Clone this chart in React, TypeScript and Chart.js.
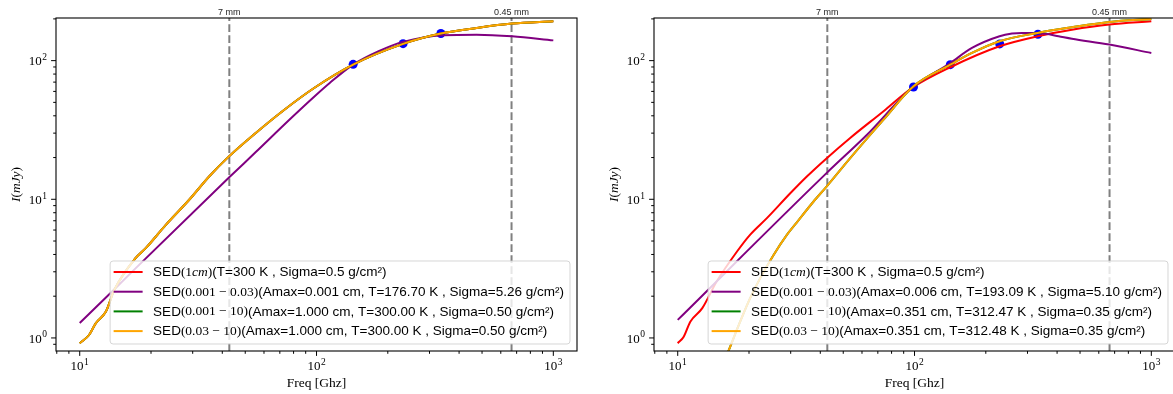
import React, { useEffect, useRef } from 'react';
import { Chart, registerables } from 'chart.js';
Chart.register(...registerables);

// ---------------- data ----------------
// Left panel
const leftFitFreq = [10, 10.95, 11.7, 12.9, 14.0, 17.2, 19.0, 23.1, 29.0, 35.2, 42.7, 55.4, 71.8, 97.7, 142.8, 232, 335, 474, 670, 1000];
const leftFitFlux = [0.916, 1.05, 1.28, 1.55, 2.22, 3.76, 4.44, 6.54, 9.92, 14.6, 20.4, 30.1, 43.2, 63.5, 93.6, 132, 156.7, 172, 185, 192];
const leftSmallFreq = [10, 13.7, 16.7, 42.8, 55.4, 76.6, 99.3, 113.7, 142.8, 183, 232, 343, 474, 670, 1000];
const leftSmallFlux = [1.28, 2.16, 3.02, 14.4, 21.9, 37.3, 56.3, 69, 93.6, 117, 136.5, 152.5, 154, 150, 140];
const leftDotFreq = [142.8, 232, 335];
const leftDotFlux = [94, 132.5, 157];

// Right panel
const rightRedFreq = [10, 10.6, 11.3, 12.7, 14.6, 17.8, 20.2, 23.8, 29.8, 35.1, 42.6, 53.5, 74, 97.5, 141.6, 228.6, 331, 462, 665, 1000];
const rightRedFlux = [0.916, 1.02, 1.31, 1.64, 2.55, 4.2, 5.54, 7.31, 11.0, 14.6, 19.8, 27.7, 43.2, 63.5, 89.6, 127, 150, 167, 182, 192];
const rightSmallFreq = [10, 42.6, 63, 97.5, 141.6, 174.8, 228.6, 258, 284, 313, 357, 406, 462, 665, 1000];
const rightSmallFlux = [1.35, 15.5, 29.2, 63.5, 96.2, 123.5, 150, 156.7, 158.5, 158.5, 156, 150, 144, 130.5, 113.6];
const rightFitFreq = [15.5, 16.4, 18.35, 20.2, 22.3, 25.4, 28.9, 31.8, 37.4, 42.6, 53.5, 74, 99, 141.6, 174.8, 228.6, 331, 462, 665, 1000];
const rightFitFlux = [0.64, 0.81, 1.31, 1.93, 2.70, 3.97, 5.54, 6.8, 9.6, 12.4, 19.8, 37.5, 65.3, 93.5, 113.6, 138, 158.5, 174, 190, 200];
const rightDotFreq = [99, 141.6, 229, 332];
const rightDotFlux = [64.5, 93.5, 132, 155];

// Reference wavelengths
const markerFreqs = [42.83, 666.2];
const markerLabels = ['7 mm', '0.45 mm'];

// Axes
const xMin = 7.94;
const xMax = 1259;
const yMin = 0.805;
const yMax = 203;
const xTitle = 'Freq [Ghz]';

type Seg = [string, 'sans' | 'serif' | 'ital'];
const leftLegend: Seg[][] = [
  [['SED', 'sans'], ['(1', 'serif'], ['cm', 'ital'], [')', 'serif'], ['(T=300 K , Sigma=0.5 g/cm²)', 'sans']],
  [['SED', 'sans'], ['(0.001 − 0.03)', 'serif'], ['(Amax=0.001 cm, T=176.70 K , Sigma=5.26 g/cm²)', 'sans']],
  [['SED', 'sans'], ['(0.001 − 10)', 'serif'], ['(Amax=1.000 cm, T=300.00 K , Sigma=0.50 g/cm²)', 'sans']],
  [['SED', 'sans'], ['(0.03 − 10)', 'serif'], ['(Amax=1.000 cm, T=300.00 K , Sigma=0.50 g/cm²)', 'sans']],
];
const rightLegend: Seg[][] = [
  [['SED', 'sans'], ['(1', 'serif'], ['cm', 'ital'], [')', 'serif'], ['(T=300 K , Sigma=0.5 g/cm²)', 'sans']],
  [['SED', 'sans'], ['(0.001 − 0.03)', 'serif'], ['(Amax=0.006 cm, T=193.09 K , Sigma=5.10 g/cm²)', 'sans']],
  [['SED', 'sans'], ['(0.001 − 10)', 'serif'], ['(Amax=0.351 cm, T=312.47 K , Sigma=0.35 g/cm²)', 'sans']],
  [['SED', 'sans'], ['(0.03 − 10)', 'serif'], ['(Amax=0.351 cm, T=312.48 K , Sigma=0.35 g/cm²)', 'sans']],
];
const seriesColors = ['#ff0000', '#800080', '#008000', '#ffa500'];
const dotColor = '#0000ff';

// ---------------- helpers ----------------
const pts = (xs: number[], ys: number[]) => xs.map((x, i) => ({ x, y: ys[i] }));
const SANS = '"Liberation Sans", Arial, sans-serif';
const SERIF = '"Liberation Serif", "DejaVu Serif", serif';
const LFS = 13.5;
const segFont = (s: string) =>
  s === 'sans' ? `${LFS}px ${SANS}` : s === 'serif' ? `${LFS}px ${SERIF}` : `italic ${LFS}px ${SERIF}`;

function logTicks(min: number, max: number) {
  const out: { v: number; major: boolean; e: number }[] = [];
  for (let e = Math.floor(Math.log10(min)); e <= Math.ceil(Math.log10(max)); e++) {
    for (let k = 1; k <= 9; k++) {
      const v = k * Math.pow(10, e);
      if (v >= min * 0.9999 && v <= max * 1.0001) out.push({ v, major: k === 1, e });
    }
  }
  return out;
}

function drawPow(ctx: CanvasRenderingContext2D, e: number, x: number, baseline: number, align: 'center' | 'right') {
  ctx.font = `13px ${SERIF}`;
  const w1 = ctx.measureText('10').width;
  ctx.font = `9.5px ${SERIF}`;
  const es = String(e);
  const w2 = ctx.measureText(es).width;
  const total = w1 + w2 + 0.5;
  const sx = align === 'center' ? x - total / 2 : x - total;
  ctx.textAlign = 'left';
  ctx.textBaseline = 'alphabetic';
  ctx.font = `13px ${SERIF}`;
  ctx.fillText('10', sx, baseline);
  ctx.font = `9.5px ${SERIF}`;
  ctx.fillText(es, sx + w1 + 0.5, baseline - 5.5);
}

function makePlugin(legend: Seg[][]) {
  return {
    id: 'mplLook',
    beforeDatasetsDraw(chart: any) {
      const { ctx, chartArea: a, scales } = chart;
      const x = scales.x;
      ctx.save();
      ctx.beginPath();
      ctx.rect(a.left, a.top, a.right - a.left, a.bottom - a.top);
      ctx.clip();
      ctx.strokeStyle = '#808080';
      ctx.lineWidth = 2;
      ctx.setLineDash([7.7, 3.3]);
      markerFreqs.forEach((f) => {
        const px = x.getPixelForValue(f);
        ctx.beginPath();
        ctx.moveTo(px, a.bottom);
        ctx.lineTo(px, a.top);
        ctx.stroke();
      });
      ctx.restore();
      ctx.save();
      ctx.fillStyle = '#262626';
      ctx.font = `9px ${SANS}`;
      ctx.textAlign = 'center';
      ctx.textBaseline = 'alphabetic';
      markerFreqs.forEach((f, i) => ctx.fillText(markerLabels[i], x.getPixelForValue(f), a.top - 3));
      ctx.restore();
    },
    afterDatasetsDraw(chart: any) {
      const { ctx, chartArea: a, scales } = chart;
      const x = scales.x;
      const y = scales.y;
      ctx.save();
      // spines
      ctx.strokeStyle = '#000';
      ctx.lineWidth = 1.1;
      ctx.strokeRect(a.left, a.top, a.right - a.left, a.bottom - a.top);
      // x ticks
      ctx.lineWidth = 1;
      logTicks(xMin, xMax).forEach((t) => {
        const px = x.getPixelForValue(t.v);
        ctx.beginPath();
        ctx.moveTo(px, a.bottom);
        ctx.lineTo(px, a.bottom + (t.major ? 4.9 : 2.8));
        ctx.stroke();
        if (t.major) {
          ctx.fillStyle = '#000';
          drawPow(ctx, t.e, px, a.bottom + 19, 'center');
        }
      });
      logTicks(yMin, yMax).forEach((t) => {
        const py = y.getPixelForValue(t.v);
        ctx.beginPath();
        ctx.moveTo(a.left, py);
        ctx.lineTo(a.left - (t.major ? 4.9 : 2.8), py);
        ctx.stroke();
        if (t.major) {
          ctx.fillStyle = '#000';
          drawPow(ctx, t.e, a.left - 9, py + 4.8, 'right');
        }
      });
      // x title
      ctx.fillStyle = '#000';
      ctx.font = `13.5px ${SERIF}`;
      ctx.textAlign = 'center';
      ctx.textBaseline = 'alphabetic';
      ctx.fillText(xTitle, (a.left + a.right) / 2, a.bottom + 36);
      // y title  I(mJy)
      const ySegs: Seg[] = [['I', 'ital'], ['(', 'serif'], ['mJy', 'ital'], [')', 'serif']];
      const fnt = (s: string) => (s === 'ital' ? `italic 13.5px ${SERIF}` : `13.5px ${SERIF}`);
      let tw = 0;
      ySegs.forEach((s) => { ctx.font = fnt(s[1]); tw += ctx.measureText(s[0]).width; });
      ctx.save();
      ctx.translate(a.left - 36, (a.top + a.bottom) / 2);
      ctx.rotate(-Math.PI / 2);
      ctx.textAlign = 'left';
      let cx = -tw / 2;
      ySegs.forEach((s) => {
        ctx.font = fnt(s[1]);
        ctx.fillText(s[0], cx, 0);
        cx += ctx.measureText(s[0]).width;
      });
      ctx.restore();

      // legend
      const widths = legend.map((row) =>
        row.reduce((acc, s) => { ctx.font = segFont(s[1]); return acc + ctx.measureText(s[0]).width; }, 0)
      );
      const maxW = Math.max(...widths);
      const padL = 3.5, handle = 29, gap = 10.5, padR = 6;
      const boxW = padL + handle + gap + maxW + padR;
      const boxH = 83;
      const boxR = a.right - 7;
      const boxB = a.bottom - 7;
      const boxL = boxR - boxW;
      const boxT = boxB - boxH;
      ctx.beginPath();
      (ctx as any).roundRect(boxL, boxT, boxW, boxH, 3);
      ctx.fillStyle = 'rgba(255,255,255,0.8)';
      ctx.fill();
      ctx.strokeStyle = 'rgba(204,204,204,0.8)';
      ctx.lineWidth = 1;
      ctx.stroke();
      legend.forEach((row, i) => {
        const ry = boxT + 11 + i * 19.7;
        ctx.strokeStyle = seriesColors[i];
        ctx.lineWidth = 2;
        ctx.beginPath();
        ctx.moveTo(boxL + padL, ry);
        ctx.lineTo(boxL + padL + handle, ry);
        ctx.stroke();
        let tx = boxL + padL + handle + gap;
        ctx.fillStyle = '#000';
        ctx.textAlign = 'left';
        ctx.textBaseline = 'middle';
        row.forEach((s) => {
          ctx.font = segFont(s[1]);
          ctx.fillText(s[0], tx, ry + 0.5);
          tx += ctx.measureText(s[0]).width;
        });
      });
      ctx.restore();
    },
  };
}

function lineDs(data: any[], color: string, order: number) {
  return {
    data,
    showLine: true,
    borderColor: color,
    backgroundColor: color,
    borderWidth: 2,
    pointRadius: 0,
    pointHoverRadius: 0,
    cubicInterpolationMode: 'monotone',
    order,
    clip: 0,
  };
}

function buildConfig(panel: any) {
  return {
    type: 'scatter',
    data: {
      datasets: [
        ...panel.lines.map((l: any, i: number) => lineDs(l, seriesColors[i], 4 - i)),
        {
          data: panel.dots,
          showLine: false,
          pointRadius: 4.5,
          pointHoverRadius: 4.5,
          pointBackgroundColor: dotColor,
          pointBorderColor: dotColor,
          pointBorderWidth: 0,
          order: 10,
        },
      ],
    },
    options: {
      animation: false,
      responsive: false,
      maintainAspectRatio: false,
      events: [],
      layout: { padding: { left: 0, right: panel.padRight, top: 18, bottom: 0 } },
      plugins: { legend: { display: false }, tooltip: { enabled: false } },
      scales: {
        x: {
          type: 'logarithmic',
          min: xMin,
          max: xMax,
          grid: { display: false },
          border: { display: false },
          ticks: { display: false },
          afterFit: (s: any) => { s.height = 43; },
        },
        y: {
          type: 'logarithmic',
          min: yMin,
          max: yMax,
          grid: { display: false },
          border: { display: false },
          ticks: { display: false },
          afterFit: (s: any) => { s.width = panel.yAxisW; },
        },
      },
    },
    plugins: [makePlugin(panel.legend)],
  } as any;
}

const leftPanel = {
  yAxisW: 56,
  padRight: 13,
  lines: [
    pts(leftFitFreq, leftFitFlux),
    pts(leftSmallFreq, leftSmallFlux),
    pts(leftFitFreq, leftFitFlux),
    pts(leftFitFreq, leftFitFlux),
  ],
  dots: pts(leftDotFreq, leftDotFlux),
  legend: leftLegend,
};

const rightPanel = {
  yAxisW: 64,
  padRight: 15,
  lines: [
    pts(rightRedFreq, rightRedFlux),
    pts(rightSmallFreq, rightSmallFlux),
    pts(rightFitFreq, rightFitFlux),
    pts(rightFitFreq, rightFitFlux),
  ],
  dots: pts(rightDotFreq, rightDotFlux),
  legend: rightLegend,
};

export default function App() {
  const leftRef = useRef<HTMLCanvasElement>(null);
  const rightRef = useRef<HTMLCanvasElement>(null);
  useEffect(() => {
    document.body.style.margin = '0';
    document.body.style.overflow = 'hidden';
    const c1 = new Chart(leftRef.current as HTMLCanvasElement, buildConfig(leftPanel));
    const c2 = new Chart(rightRef.current as HTMLCanvasElement, buildConfig(rightPanel));
    return () => {
      c1.destroy();
      c2.destroy();
    };
  }, []);
  return (
    <div style={{ position: 'relative', width: 1173, height: 394, overflow: 'hidden', background: '#fff' }}>
      <canvas ref={leftRef} width={590} height={394} style={{ position: 'absolute', left: 0, top: 0 }} />
      <canvas ref={rightRef} width={600} height={394} style={{ position: 'absolute', left: 590, top: 0 }} />
    </div>
  );
}
